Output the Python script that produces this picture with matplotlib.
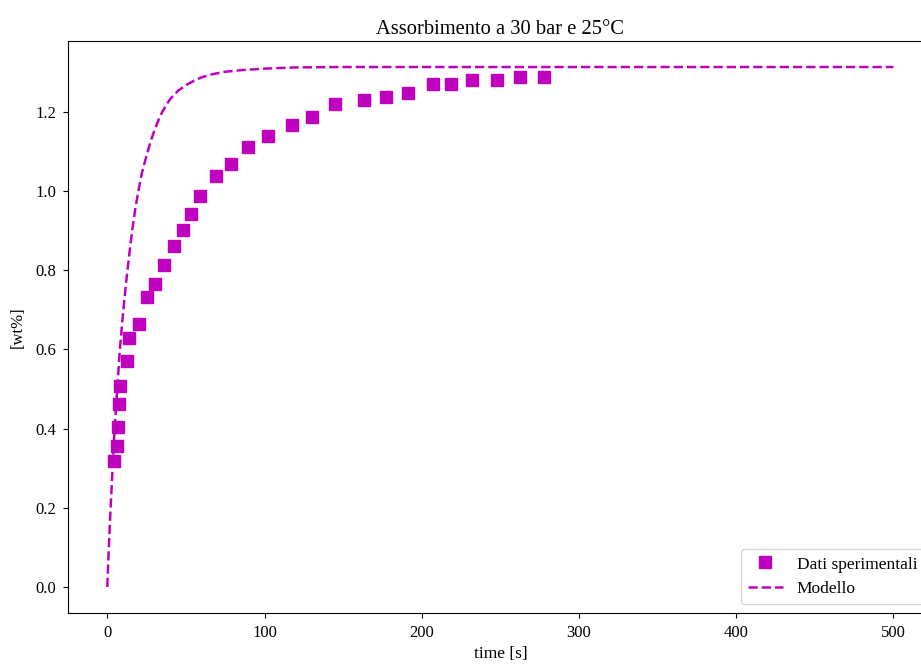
import numpy as np
import matplotlib
matplotlib.use("Agg")
import matplotlib.pyplot as plt

plt.rcParams['font.family'] = ['Liberation Serif', 'DejaVu Serif']

t_exp = [4.2, 5.9, 6.6, 7.2, 8.2, 12.3, 14.0, 20.1, 25.4, 30.3, 36.0, 42.7,
         48.2, 53.0, 59.2, 69.2, 78.9, 89.3, 102.4, 117.6, 129.9, 145.0,
         163.1, 177.3, 191.3, 207.4, 218.9, 232.2, 248.1, 262.7, 277.7]
wt_exp = [0.318, 0.355, 0.404, 0.461, 0.507, 0.570, 0.629, 0.663, 0.732,
          0.766, 0.812, 0.862, 0.902, 0.941, 0.988, 1.039, 1.069, 1.110,
          1.138, 1.167, 1.188, 1.219, 1.229, 1.238, 1.248, 1.270, 1.270,
          1.279, 1.279, 1.288, 1.288]

# Modello
t_mod = [0, 1, 2, 3, 4, 5, 6, 7, 8, 10, 12, 14, 16, 18, 20, 22, 25, 28, 30,
         33, 35, 38, 40, 45, 50, 55, 60, 67, 75, 85, 100, 120, 150, 500]
wt_mod = [0.0, 0.10, 0.19, 0.27, 0.35, 0.42, 0.48, 0.54, 0.60, 0.69, 0.77,
          0.84, 0.905, 0.96, 1.005, 1.045, 1.09, 1.13, 1.153, 1.183, 1.200,
          1.220, 1.232, 1.253, 1.267, 1.278, 1.287, 1.295, 1.301, 1.305,
          1.309, 1.312, 1.313, 1.313]

fig = plt.figure(figsize=(9.21, 6.66), dpi=100)
ax = fig.add_axes([0.0738, 0.0796, 0.939, 0.8588])

ax.plot(t_exp, wt_exp, 's', color='m', markersize=8.5, label='Dati sperimentali')
ax.plot(t_mod, wt_mod, '--', color='m', linewidth=1.8, label='Modello')

ax.set_title('Assorbimento a 30 bar e 25°C', fontsize=14.8, pad=5)
ax.set_xlabel('time [s]', fontsize=12.5, labelpad=4)
ax.set_ylabel('[wt%]', fontsize=12, labelpad=7)
ax.tick_params(labelsize=12, pad=5)
ax.legend(loc='lower right', fontsize=12.5)

plt.savefig('out.png', dpi=100)
